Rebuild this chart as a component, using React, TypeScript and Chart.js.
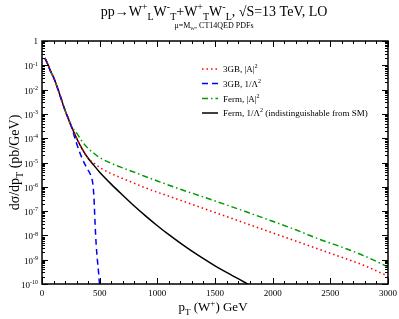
import React, { useEffect, useRef } from 'react';
import { Chart, registerables } from 'chart.js';
Chart.register(...registerables);

// ---- data (pT in GeV, dσ/dpT in pb/GeV) ----
const ptBlack = [25, 50, 75, 100, 150, 200, 250, 300, 350, 400, 450, 500, 600, 700, 800, 900, 1000, 1100, 1200, 1300, 1400, 1500, 1600, 1700, 1800];
const sigBlack = [2.0e-1, 1.12e-1, 5.6e-2, 3.2e-2, 7.1e-3, 1.4e-3, 3.5e-4, 1.0e-4, 3.5e-5, 1.5e-5, 7.6e-6, 4.0e-6, 1.29e-6, 4.5e-7, 1.62e-7, 6.2e-8, 2.5e-8, 1.07e-8, 4.8e-9, 2.24e-9, 1.1e-9, 5.6e-10, 3.0e-10, 1.66e-10, 8.9e-11];

const ptGreen = [25, 50, 75, 100, 150, 200, 250, 300, 350, 400, 450, 500, 600, 700, 800, 900, 1000, 1200, 1400, 1600, 1800, 2000, 2200, 2400, 2600, 2800, 3000];
const sigGreen = [2.0e-1, 1.12e-1, 5.6e-2, 3.2e-2, 7.1e-3, 1.4e-3, 3.5e-4, 1.66e-4, 7.1e-5, 3.8e-5, 2.4e-5, 1.6e-5, 9.3e-6, 6.0e-6, 4.0e-6, 2.6e-6, 1.74e-6, 7.9e-7, 3.8e-7, 1.8e-7, 8.3e-8, 3.8e-8, 1.7e-8, 7.1e-9, 3.3e-9, 1.4e-9, 5.0e-10];

const ptRed = [25, 50, 75, 100, 150, 200, 250, 300, 350, 400, 450, 500, 600, 700, 800, 900, 1000, 1200, 1400, 1600, 1800, 2000, 2200, 2400, 2600, 2800, 3000];
const sigRed = [2.0e-1, 1.12e-1, 5.6e-2, 3.2e-2, 7.1e-3, 1.4e-3, 3.5e-4, 1.0e-4, 3.5e-5, 1.5e-5, 9.5e-6, 6.3e-6, 3.5e-6, 2.2e-6, 1.4e-6, 8.9e-7, 6.0e-7, 2.8e-7, 1.3e-7, 6.0e-8, 2.75e-8, 1.26e-8, 5.9e-9, 2.7e-9, 1.26e-9, 5.6e-10, 2.1e-10];

const ptBlue = [25, 50, 75, 100, 150, 200, 250, 300, 350, 400, 425, 440, 450, 460, 470, 480, 490, 500];
const sigBlue = [2.0e-1, 1.12e-1, 5.6e-2, 3.2e-2, 7.1e-3, 1.4e-3, 3.5e-4, 6.0e-5, 1.4e-5, 4.8e-6, 2.8e-6, 1.4e-6, 4.0e-7, 3.2e-8, 4.0e-9, 1.0e-9, 3.2e-10, 8.0e-11];

const xTickValues = [0, 500, 1000, 1500, 2000, 2500, 3000];
const yExponents = [0, -1, -2, -3, -4, -5, -6, -7, -8, -9, -10];

const legendTexts: [string, string][][] = [
  [['3GB, |A|', 'n'], ['2', 'sup']],
  [['3GB, 1/Λ', 'n'], ['2', 'sup']],
  [['Ferm, |A|', 'n'], ['2', 'sup']],
  [['Ferm, 1/Λ', 'n'], ['2', 'sup'], [' (indistinguishable from SM)', 'n']],
];

const FONT = '"Liberation Serif", "DejaVu Serif", serif';

function drawRich(ctx: CanvasRenderingContext2D, segs: [string, string][], x: number, y: number, size: number, align: 'left' | 'center' | 'right') {
  const small = Math.round(size * 0.68);
  const widths = segs.map(([t, m]) => {
    ctx.font = `${m === 'n' ? size : small}px ${FONT}`;
    return ctx.measureText(t).width;
  });
  const total = widths.reduce((a, b) => a + b, 0);
  let cx = align === 'center' ? x - total / 2 : align === 'right' ? x - total : x;
  ctx.textAlign = 'left';
  ctx.textBaseline = 'alphabetic';
  segs.forEach(([t, m], i) => {
    ctx.font = `${m === 'n' ? size : small}px ${FONT}`;
    const dy = m === 'sup' ? -size * 0.42 : m === 'sub' ? size * 0.28 : 0;
    ctx.fillText(t, cx, y + dy);
    cx += widths[i];
  });
}

const decor = {
  id: 'decor',
  afterDraw(chart: any) {
    const ctx: CanvasRenderingContext2D = chart.ctx;
    const { left, right, top, bottom } = chart.chartArea;
    const xs = chart.scales.x;
    const ys = chart.scales.y;
    ctx.save();
    ctx.strokeStyle = '#000';
    ctx.fillStyle = '#000';
    // frame
    ctx.lineWidth = 1.5;
    ctx.strokeRect(left, top, right - left, bottom - top);
    // x ticks
    ctx.lineWidth = 1;
    for (let v = 0; v <= 3000; v += 100) {
      const px = Math.round(xs.getPixelForValue(v)) + 0.5;
      const len = v % 500 === 0 ? 6 : 3;
      ctx.beginPath();
      ctx.moveTo(px, bottom); ctx.lineTo(px, bottom - len);
      ctx.moveTo(px, top); ctx.lineTo(px, top + len);
      ctx.stroke();
    }
    // y ticks
    for (let e = -10; e <= 0; e++) {
      for (let m = 1; m <= 9; m++) {
        const val = m * Math.pow(10, e);
        if (val > 1.0001) continue;
        const py = Math.round(ys.getPixelForValue(val)) + 0.5;
        const len = m === 1 ? 6 : 3;
        ctx.beginPath();
        ctx.moveTo(left, py); ctx.lineTo(left + len, py);
        ctx.moveTo(right, py); ctx.lineTo(right - len, py);
        ctx.stroke();
      }
    }
    // x tick labels
    ctx.font = `9px ${FONT}`;
    ctx.textAlign = 'center';
    ctx.textBaseline = 'alphabetic';
    xTickValues.forEach((v) => {
      ctx.fillText(String(v), xs.getPixelForValue(v), bottom + 12);
    });
    // y tick labels
    yExponents.forEach((e) => {
      const py = ys.getPixelForValue(Math.pow(10, e));
      if (e === 0) drawRich(ctx, [['1', 'n']], left - 4, py + 3, 9, 'right');
      else drawRich(ctx, [['10', 'n'], [String(e), 'sup']], left - 4, py + 4, 9, 'right');
    });
    // title
    drawRich(ctx, [
      ['pp→W', 'n'], ['+', 'sup'], ['L', 'sub'], ['W', 'n'], ['-', 'sup'], ['T', 'sub'],
      ['+W', 'n'], ['+', 'sup'], ['T', 'sub'], ['W', 'n'], ['-', 'sup'], ['L', 'sub'],
      [', √S=13 TeV, LO', 'n'],
    ], 214, 16, 14, 'center');
    drawRich(ctx, [['μ=M', 'n'], ['W', 'sub'], [', CT14QED PDFs', 'n']], 214, 28, 8, 'center');
    // x axis title
    drawRich(ctx, [['p', 'n'], ['T', 'sub'], [' (W', 'n'], ['+', 'sup'], [') GeV', 'n']], 213, 311, 13, 'center');
    // y axis title
    ctx.save();
    ctx.translate(19, (top + bottom) / 2);
    ctx.rotate(-Math.PI / 2);
    drawRich(ctx, [['dσ/dp', 'n'], ['T', 'sub'], [' (pb/GeV)', 'n']], 0, 0, 14, 'center');
    ctx.restore();
    // legend
    const ds = chart.data.datasets;
    const rowsY = [69, 83.5, 98.5, 113];
    ds.forEach((d: any, i: number) => {
      const y = rowsY[i];
      ctx.save();
      ctx.strokeStyle = d.borderColor;
      ctx.lineWidth = d.borderWidth;
      ctx.setLineDash(d.borderDash || []);
      ctx.beginPath();
      ctx.moveTo(202, y); ctx.lineTo(218, y);
      ctx.stroke();
      ctx.restore();
      ctx.fillStyle = '#000';
      drawRich(ctx, legendTexts[i], 223, y + 3, 9, 'left');
    });
    ctx.restore();
  },
};

function toPts(xa: number[], ya: number[]) {
  return xa.map((x, i) => ({ x, y: ya[i] }));
}

export default function App() {
  const ref = useRef<HTMLCanvasElement>(null);
  useEffect(() => {
    document.body.style.margin = '0';
    const chart = new Chart(ref.current as HTMLCanvasElement, {
      type: 'line',
      data: {
        datasets: [
          { label: '3GB, |A|²', data: toPts(ptRed, sigRed), borderColor: '#ff0000', borderWidth: 1.5, borderDash: [1.5, 3], cubicInterpolationMode: 'monotone' },
          { label: '3GB, 1/Λ²', data: toPts(ptBlue, sigBlue), borderColor: '#0000ff', borderWidth: 1.5, borderDash: [6, 4], cubicInterpolationMode: 'monotone' },
          { label: 'Ferm, |A|²', data: toPts(ptGreen, sigGreen), borderColor: '#009a00', borderWidth: 1.5, borderDash: [6, 3, 1.5, 3], cubicInterpolationMode: 'monotone' },
          { label: 'Ferm, 1/Λ² (indistinguishable from SM)', data: toPts(ptBlack, sigBlack), borderColor: '#000000', borderWidth: 1.5, cubicInterpolationMode: 'monotone' },
        ] as any,
      },
      options: {
        responsive: false,
        animation: false,
        layout: { padding: { left: 42, top: 41, right: 11, bottom: 35 } },
        scales: {
          x: { type: 'linear', min: 0, max: 3000, display: false },
          y: { type: 'logarithmic', min: 1e-10, max: 1, display: false },
        },
        elements: { point: { radius: 0 } },
        plugins: { legend: { display: false }, tooltip: { enabled: false } },
      },
      plugins: [decor],
    });
    return () => chart.destroy();
  }, []);
  return (
    <div style={{ width: 399, height: 319, background: '#fff' }}>
      <canvas ref={ref} width={399} height={319} style={{ display: 'block' }} />
    </div>
  );
}
